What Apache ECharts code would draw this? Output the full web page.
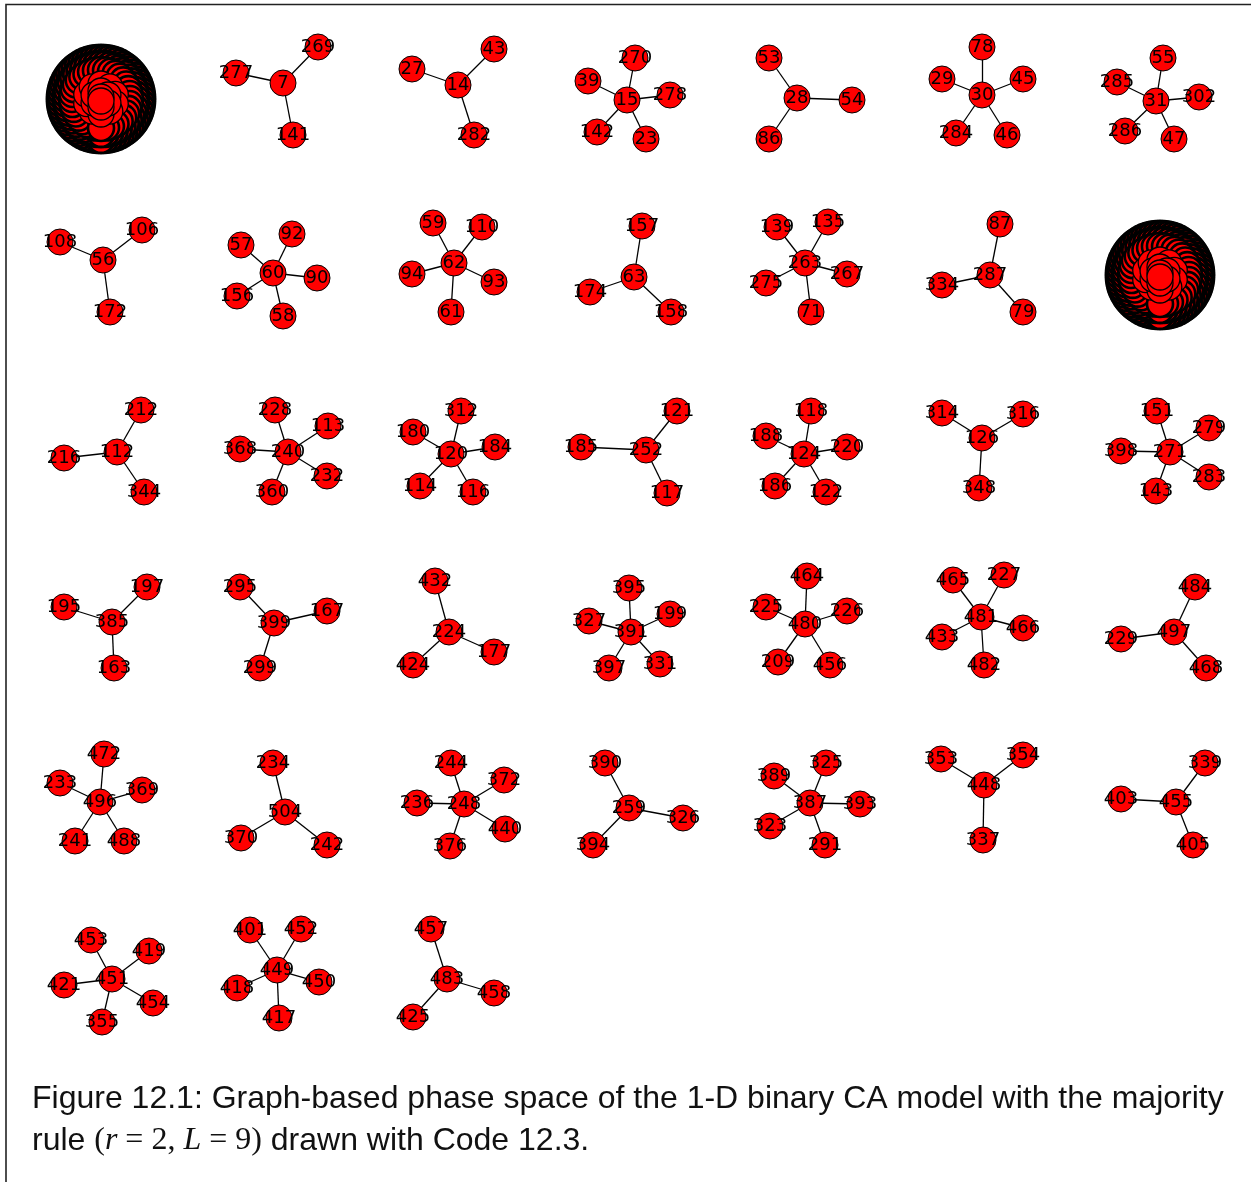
<!DOCTYPE html>
<html><head><meta charset="utf-8">
<script src="https://cdn.jsdelivr.net/npm/echarts@6/dist/echarts.min.js"></script>
<style>html,body{margin:0;padding:0;background:#fff}#c{width:1251px;height:1182px}</style>
</head><body><div id="c"></div>
<script>
// ---- data: attractor (fixed point) of each small component and its predecessor states
const hubs = [7, 14, 15, 28, 30, 31,
  56, 60, 62, 63, 263, 287,
  112, 240, 120, 252, 124, 126, 271,
  385, 399, 224, 391, 480, 481, 497,
  496, 504, 248, 259, 387, 448, 455,
  451, 449, 483];
const leaves = [
  [277, 269, 141], [27, 43, 282], [39, 270, 278, 142, 23], [53, 54, 86], [78, 29, 45, 284, 46], [55, 285, 302, 286, 47],
  [108, 106, 172], [57, 92, 90, 156, 58], [59, 110, 94, 93, 61], [157, 174, 158], [139, 135, 275, 267, 71], [87, 334, 79],
  [212, 216, 344], [228, 113, 368, 232, 360], [312, 180, 184, 114, 116], [121, 185, 117], [118, 188, 220, 186, 122], [314, 316, 348], [151, 279, 398, 283, 143],
  [197, 195, 163], [295, 167, 299], [432, 424, 177], [395, 327, 199, 397, 331], [464, 225, 226, 209, 456], [465, 227, 433, 466, 482], [484, 229, 468],
  [472, 233, 369, 241, 488], [234, 370, 242], [244, 372, 236, 440, 376], [390, 326, 394], [389, 325, 393, 323, 291], [353, 354, 337], [339, 403, 405],
  [453, 419, 421, 454, 355], [401, 452, 418, 450, 417], [457, 458, 425]
];
// two large basins (unreadable dense clusters), number of states in each
const basinSizes = [166, 166];

// ---- layout (node positions, in layout units)
const hubLayout = [[283,83],[458,85],[627,100],[797,98],[982,95],[1156,101],
  [103,260],[273,273],[454,263],[634,277],[805,263],[990,275],
  [117,452],[288,452],[451,454],[646,450],[804,454],[982,438],[1170,452],
  [112,622],[274,623],[449,632],[631,632],[805,624],[981,617],[1174,632],
  [100,802],[285,812],[464,804],[629,808],[810,803],[984,785],[1176,802],
  [112,979],[277,970],[447,979]];
const leafLayout = [
  [[236,73],[318,47],[293,135]], [[412,69],[494,49],[474,135]], [[588,81],[635,58],[670,95],[597,132],[646,139]],
  [[769,58],[852,100],[769,139]], [[982,47],[942,79],[1023,79],[956,133],[1007,135]], [[1163,58],[1117,82],[1199,97],[1125,131],[1174,139]],
  [[60,242],[142,230],[110,312]], [[241,245],[292,234],[317,278],[237,296],[283,316]], [[433,223],[482,227],[412,274],[494,282],[451,312]],
  [[642,226],[590,292],[671,312]], [[777,227],[828,222],[766,283],[847,274],[811,312]], [[1000,224],[942,285],[1023,312]],
  [[141,410],[64,458],[144,492]], [[275,410],[328,426],[240,449],[327,476],[272,492]], [[461,411],[413,432],[495,447],[420,486],[473,492]],
  [[677,411],[581,447],[667,493]], [[811,411],[766,436],[847,447],[775,486],[826,492]], [[942,413],[1023,414],[979,488]],
  [[1157,411],[1209,428],[1121,451],[1209,477],[1156,491]],
  [[147,587],[64,607],[114,668]], [[240,587],[327,611],[260,668]], [[435,581],[413,665],[494,652]],
  [[629,588],[589,621],[670,614],[609,668],[660,664]], [[807,576],[766,607],[847,611],[778,662],[830,665]],
  [[953,580],[1004,575],[942,637],[1023,628],[984,665]], [[1195,587],[1121,639],[1206,668]],
  [[104,754],[60,783],[142,790],[75,841],[124,841]], [[273,763],[241,838],[327,845]], [[451,763],[504,780],[417,803],[505,829],[450,846]],
  [[605,763],[683,818],[593,845]], [[774,776],[826,763],[860,804],[770,826],[825,845]], [[941,759],[1023,755],[983,840]],
  [[1205,763],[1121,799],[1193,845]],
  [[91,940],[149,951],[64,985],[153,1003],[102,1022]], [[250,930],[301,929],[237,988],[319,982],[279,1018]], [[431,929],[494,993],[413,1017]]
];
const basinCenters = [[101, 99], [1160, 275]];
// rings used to lay out a basin's nodes: [radius, node count, outline width]
const basinRings = [[41, 64, 3], [35, 48, 3], [29, 36, 2.6], [15, 10, 1.3], [8, 6, 1.3], [2, 2, 1.3]];

const captionLine1 = 'Figure 12.1: Graph-based phase space of the 1-D binary CA model with the majority';

// ---- build graph
const nodes = [], links = [];
hubs.forEach((h, i) => {
  leaves[i].forEach((l, j) => {
    nodes.push({ name: String(l), value: leafLayout[i][j] });
    links.push({ source: String(h), target: String(l) });
  });
  nodes.push({ name: String(h), value: hubLayout[i] });
});

basinCenters.forEach((c, b) => {
  let count = 0;
  const ringIds = [];
  basinRings.forEach(([r, n, bw], ri) => {
    const ids = [];
    for (let k = 0; k < n && count < basinSizes[b]; k++, count++) {
      // last node of every ring ends up at the bottom of the cluster
      const a = Math.PI / 2 + 2 * Math.PI * (k + 1) / n;
      const id = 'basin' + b + '_' + count;
      nodes.push({ name: id, value: [c[0] + r * Math.cos(a), c[1] + r * Math.sin(a)],
        itemStyle: { borderWidth: bw }, label: { show: false } });
      ids.push(id);
    }
    ringIds.push(ids);
  });
  for (let ri = 0; ri < ringIds.length - 1; ri++) {
    const a = ringIds[ri], nx = ringIds[ri + 1];
    a.forEach((id, k) => links.push({ source: id, target: nx[Math.floor(k * nx.length / a.length)] }));
  }
});

const chart = echarts.init(document.getElementById('c'), null, { renderer: 'canvas' });
chart.setOption({
  animation: false,
  backgroundColor: '#fff',
  grid: { left: 0, right: 0, top: 0, bottom: 0 },
  xAxis: { type: 'value', min: 0, max: 1251, show: false },
  yAxis: { type: 'value', min: 0, max: 1182, inverse: true, show: false },
  title: {
    left: 32, top: 1078, padding: 0,
    text: '{s|' + captionLine1 + '}\n{s|rule }{m|(}{i|r}{m| = 2, }{i|L}{m| = 9)}{s| drawn with Code 12.3.}',
    textStyle: {
      fontWeight: 'normal',
      rich: {
        s: { fontFamily: 'Liberation Sans', fontWeight: 'normal', fontSize: 32, color: '#111', lineHeight: 42 },
        m: { fontFamily: 'Liberation Serif', fontWeight: 'normal', fontSize: 32, color: '#111', lineHeight: 42 },
        i: { fontFamily: 'Liberation Serif', fontWeight: 'normal', fontStyle: 'italic', fontSize: 32, color: '#111', lineHeight: 42 }
      }
    }
  },
  graphic: [{
    type: 'polyline', silent: true,
    shape: { points: [[6, 1182], [6, 4.5], [1251, 4.5]] },
    style: { stroke: '#222', lineWidth: 1.6, fill: null }
  }],
  series: [{
    type: 'graph',
    coordinateSystem: 'cartesian2d',
    silent: true,
    symbol: 'circle',
    symbolSize: 26,
    data: nodes,
    links: links,
    itemStyle: { color: '#ff0000', borderColor: '#000', borderWidth: 1 },
    lineStyle: { color: '#000', width: 1.3, opacity: 1, curveness: 0 },
    label: { show: true, position: 'inside', formatter: '{b}', color: '#000', fontSize: 18, fontFamily: 'DejaVu Sans' },
    emphasis: { disabled: true }
  }]
});
</script></body></html>
